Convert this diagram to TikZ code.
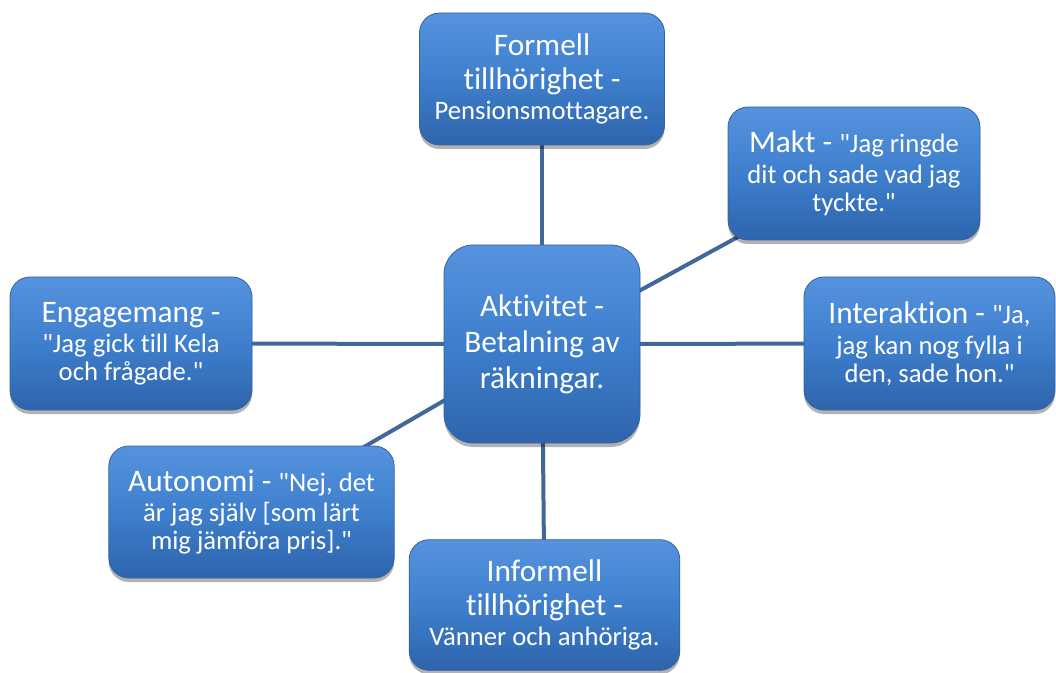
\documentclass[tikz,border=0pt]{standalone}
\usepackage{fontspec}
\setmainfont{Carlito}[Ligatures={TeXOff,CommonOff}]
\usetikzlibrary{shadows,backgrounds}

\definecolor{boxtop}{RGB}{86,147,222}
\definecolor{boxmid}{RGB}{62,127,205}
\definecolor{boxbot}{RGB}{46,100,172}
\definecolor{boxline}{RGB}{52,98,160}
\definecolor{linkcol}{RGB}{66,104,154}

\newcommand{\Lg}{\fontsize{23.5}{27}\selectfont}
\newcommand{\Sm}{\fontsize{20}{21}\selectfont}

\begin{document}
\begin{tikzpicture}[x=0.75pt, y=-0.75pt,
  box/.style={rectangle, rounded corners=15pt, draw=boxline, line width=0.6pt,
    top color=boxtop, bottom color=boxbot, middle color=boxmid,
    text=white, align=center, inner sep=0pt, font=\Sm,
    drop shadow={shadow xshift=0pt, shadow yshift=-3pt, opacity=0.3, fill=black}},
  link/.style={draw=linkcol, line width=3pt},
]
\useasboundingbox (0,0) rectangle (1056,673);

% === Centre ===
\node[box, font=\Lg, rounded corners=22pt, minimum width=147pt, minimum height=148.5pt] (act) at (542,344)
  {Aktivitet -\\ Betalning av\\ räkningar.};

% === Surrounding aspects ===
\node[box, minimum width=183.75pt, minimum height=99pt] (formell) at (542,79)
  {\Lg Formell\\[4.5pt] \Lg tillhörighet -\\[1pt] Pensionsmottagare.};
\node[box, minimum width=189pt, minimum height=99.75pt] (makt) at (854,173.5)
  {\Lg Makt - \Sm "Jag ringde\\[2.5pt] dit och sade vad jag\\ tyckte."};
\node[box, minimum width=188.25pt, minimum height=99.75pt] (interaktion) at (929.5,343.5)
  {\Lg Interaktion - \Sm "Ja,\\[2.5pt] jag kan nog fylla i\\ den, sade hon."};
\node[box, minimum width=203pt, minimum height=98pt] (informell) at (544.5,605)
  {\Lg Informell\\[4.5pt] \Lg tillhörighet -\\[1.5pt] Vänner och anhöriga.};
\node[box, minimum width=214pt, minimum height=99pt] (autonomi) at (251.5,512)
  {\Lg Autonomi - \Sm "Nej, det\\[1.5pt] är jag själv [som lärt\\ mig jämföra pris]."};
\node[box, minimum width=181.5pt, minimum height=99.75pt] (engagemang) at (131,343.5)
  {\Lg Engagemang -\\[1.5pt] "Jag gick till Kela\\ och frågade."};

% === Links behind the boxes ===
\begin{scope}[on background layer]
  \foreach \n in {formell,makt,interaktion,informell,autonomi,engagemang}
    \draw[link] (act.center) -- (\n.center);
\end{scope}

\end{tikzpicture}
\end{document}
